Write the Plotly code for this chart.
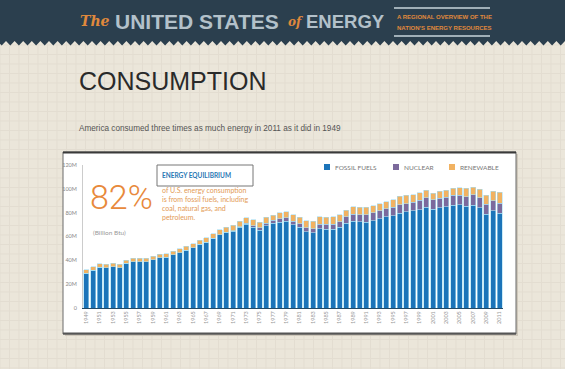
import plotly.graph_objects as go

W, H = 565, 369
ML, MR, MT, MB = 83, 62, 165, 61

years = list(range(1949, 2012))
fossil = [28.97, 31.63, 34.01, 33.80, 34.76, 33.83, 37.41, 38.82, 38.86, 38.62,
          40.46, 42.14, 42.77, 44.65, 46.43, 48.50, 50.58, 53.48, 55.08, 58.43,
          61.27, 63.52, 64.60, 67.70, 70.32, 67.91, 65.35, 69.10, 70.99, 71.86,
          72.89, 69.98, 67.75, 64.04, 63.29, 66.62, 66.09, 66.03, 67.73, 71.17,
          72.90, 72.33, 71.88, 73.40, 75.00, 76.40, 77.33, 79.58, 80.93, 81.60,
          82.64, 84.73, 82.90, 84.03, 84.90, 86.23, 86.45, 85.35, 86.37, 83.96,
          78.56, 81.42, 79.55]
nuclear = [0, 0, 0, 0, 0, 0, 0, 0, 0, 0, 0,
           0.01, 0.02, 0.03, 0.04, 0.04, 0.04, 0.06, 0.09, 0.14, 0.15,
           0.24, 0.41, 0.58, 0.91, 1.27, 1.90, 2.11, 2.70, 3.02, 2.78,
           2.74, 3.01, 3.13, 3.20, 3.55, 4.08, 4.38, 4.75, 5.59, 5.60,
           6.10, 6.42, 6.48, 6.41, 6.69, 7.08, 7.09, 6.60, 7.07, 7.61,
           7.86, 8.03, 8.14, 7.96, 8.22, 8.16, 8.21, 8.46, 8.43, 8.36,
           8.43, 8.26]
renewable = [2.97, 2.98, 2.96, 2.94, 2.89, 2.82, 2.78, 2.92, 2.93, 3.03,
             2.96, 2.93, 2.94, 3.09, 3.10, 3.30, 3.40, 3.41, 3.71, 3.83,
             4.15, 4.08, 4.27, 4.40, 4.43, 4.77, 4.72, 4.77, 4.25, 5.04,
             5.17, 5.49, 5.47, 5.99, 6.49, 6.43, 6.08, 6.08, 5.66, 5.28,
             6.29, 6.04, 6.07, 5.82, 6.08, 5.93, 6.56, 7.01, 7.02, 6.49,
             6.52, 6.10, 5.16, 5.73, 6.15, 6.25, 6.41, 6.86, 6.53, 7.19,
             7.60, 8.03, 9.14]
series_names = ["FOSSIL FUELS", "NUCLEAR", "RENEWABLE"]
series_colors = ["#1c74b9", "#7c6a9c", "#f1b262"]
ytick_vals = [0, 20, 40, 60, 80, 100, 120]
ytick_text = ["0", "20M", "40M", "60M", "80M", "100M", "120M"]
xtick_vals = years[::2]

PW = W - ML - MR
PH = H - MT - MB


def px(x):
    return (x - ML) / PW


def py(y):
    return (H - MB - y) / PH


fig = go.Figure()
for name, vals, col in zip(series_names, [fossil, nuclear, renewable], series_colors):
    fig.add_trace(go.Bar(x=years, y=vals, name=name, marker_color=col,
                         marker_line=dict(color="#a9def2", width=0.6),
                         showlegend=False, hoverinfo="skip"))

shapes = []
# background grid
g = 9.5
x = 0.0
while x <= W:
    shapes.append(dict(type="line", xref="paper", yref="paper", x0=px(x), x1=px(x),
                       y0=py(0), y1=py(H), line=dict(color="#e3ddd1", width=1), layer="below"))
    x += g
y = 45.0
while y <= H:
    shapes.append(dict(type="line", xref="paper", yref="paper", x0=px(0), x1=px(W),
                       y0=py(y), y1=py(y), line=dict(color="#e3ddd1", width=1), layer="below"))
    y += g

# header band with zigzag bottom
period = 8.6
path = f"M {px(0)},{py(0)} L {px(W)},{py(0)} L {px(W)},{py(41)} "
xx = W
pts = []
while xx > 0:
    pts.append(f"L {px(xx - period/2)},{py(45.5)} L {px(xx - period)},{py(41)} ")
    xx -= period
path += "".join(pts) + f"L {px(0)},{py(41)} Z"
shapes.append(dict(type="path", xref="paper", yref="paper", path=path,
                   fillcolor="#2b3f4e", line=dict(width=0), layer="below"))
# tagline rules
for yy in (8, 36):
    shapes.append(dict(type="line", xref="paper", yref="paper", x0=px(394), x1=px(490),
                       y0=py(yy), y1=py(yy), line=dict(color="#c9d6dc", width=1.5), layer="below"))

# chart panel
shapes.append(dict(type="rect", xref="paper", yref="paper", x0=px(65), x1=px(518),
                   y0=py(154), y1=py(336), fillcolor="#cfc8bb", line=dict(width=0), layer="below"))
shapes.append(dict(type="rect", xref="paper", yref="paper", x0=px(63), x1=px(516),
                   y0=py(152), y1=py(334), fillcolor="#ffffff",
                   line=dict(color="#6a6a6a", width=1), layer="below"))
shapes.append(dict(type="line", xref="paper", yref="paper", x0=px(63), x1=px(516),
                   y0=py(152.5), y1=py(152.5), line=dict(color="#3a3a3a", width=2), layer="below"))
shapes.append(dict(type="line", xref="paper", yref="paper", x0=px(63), x1=px(516),
                   y0=py(333.5), y1=py(333.5), line=dict(color="#555555", width=2), layer="below"))

# callout box
shapes.append(dict(type="rect", xref="paper", yref="paper", x0=px(157), x1=px(253),
                   y0=py(165), y1=py(186), line=dict(color="#777777", width=1),
                   fillcolor="rgba(0,0,0,0)", layer="above"))

# legend squares
for lx, col in zip([324, 393, 449], series_colors):
    shapes.append(dict(type="rect", xref="paper", yref="paper", x0=px(lx), x1=px(lx + 6),
                       y0=py(164), y1=py(170), fillcolor=col, line=dict(width=0), layer="above"))

ann = []


def text(x, y, s, size, color, family, xanchor="left", yanchor="middle", weight=None):
    f = dict(size=size, color=color, family=family)
    if weight:
        f["weight"] = weight
    ann.append(dict(x=px(x), y=py(y), xref="paper", yref="paper", text=s, showarrow=False,
                    xanchor=xanchor, yanchor=yanchor, align="left", font=f))


sans = "Liberation Sans, Arial, sans-serif"
geo = "Lato, Open Sans, sans-serif"

# header
text(78, 21, "<i><b>The</b></i>", 14, "#e0893c", "DejaVu Serif")
text(113, 21, "UNITED STATES", 21, "#b3c1ca", sans, weight=700)
text(286, 22, "<i><b>of</b></i>", 12, "#e0893c", "DejaVu Serif")
text(304, 21, "ENERGY", 18.5, "#b3c1ca", sans, weight=700)
text(395, 17, "A REGIONAL OVERVIEW OF THE", 6, "#e0893c", sans, weight=700)
text(395, 27.5, "NATION'S ENERGY RESOURCES", 6, "#e0893c", sans, weight=700)

# title
text(77, 81, "CONSUMPTION", 25, "#2a2a2a", sans)
text(77, 128, "America consumed three times as much energy in 2011 as it did in 1949", 8.2,
     "#555555", sans)

# callout
text(88, 197, "82%", 34, "#e8893b", "Roboto, sans-serif", weight=300)
text(160, 175.5, "<b>ENERGY EQUILIBRIUM</b>", 6.5, "#2a78b4", geo)
text(160, 203.5, "of U.S. energy consumption<br>is from fossil fuels, including<br>coal, natural gas, and<br>petroleum.",
     7, "#e39a55", geo)
text(91, 232, "(Billion Btu)", 6.5, "#999999", geo)

# legend labels
for lx, name in zip([333, 402, 458], series_names):
    text(lx, 167, name, 6.5, "#777777", geo)

fig.update_layout(
    width=W, height=H,
    margin=dict(l=ML, r=MR, t=MT, b=MB, pad=0),
    paper_bgcolor="#ebe6da", plot_bgcolor="#ffffff",
    barmode="stack", bargap=0.25,
    shapes=shapes, annotations=ann,
    xaxis=dict(range=[1948.5, 2011.5], tickvals=xtick_vals, ticktext=[str(v) for v in xtick_vals],
               tickangle=-90, tickfont=dict(size=5.5, color="#999999", family=geo),
               showgrid=False, zeroline=False, showline=True, linecolor="#244a66", linewidth=1,
               ticks=""),
    yaxis=dict(range=[0, 120], tickvals=ytick_vals, ticktext=ytick_text,
               tickfont=dict(size=5.5, color="#888888", family=geo),
               showgrid=False, zeroline=False, showline=True, linecolor="#cccccc", linewidth=1,
               ticks="", ticklabelstandoff=4),
    font=dict(family=geo),
)

fig.write_html("out.html", config={"displayModeBar": False},
               post_script="document.body.style.margin='0';")
